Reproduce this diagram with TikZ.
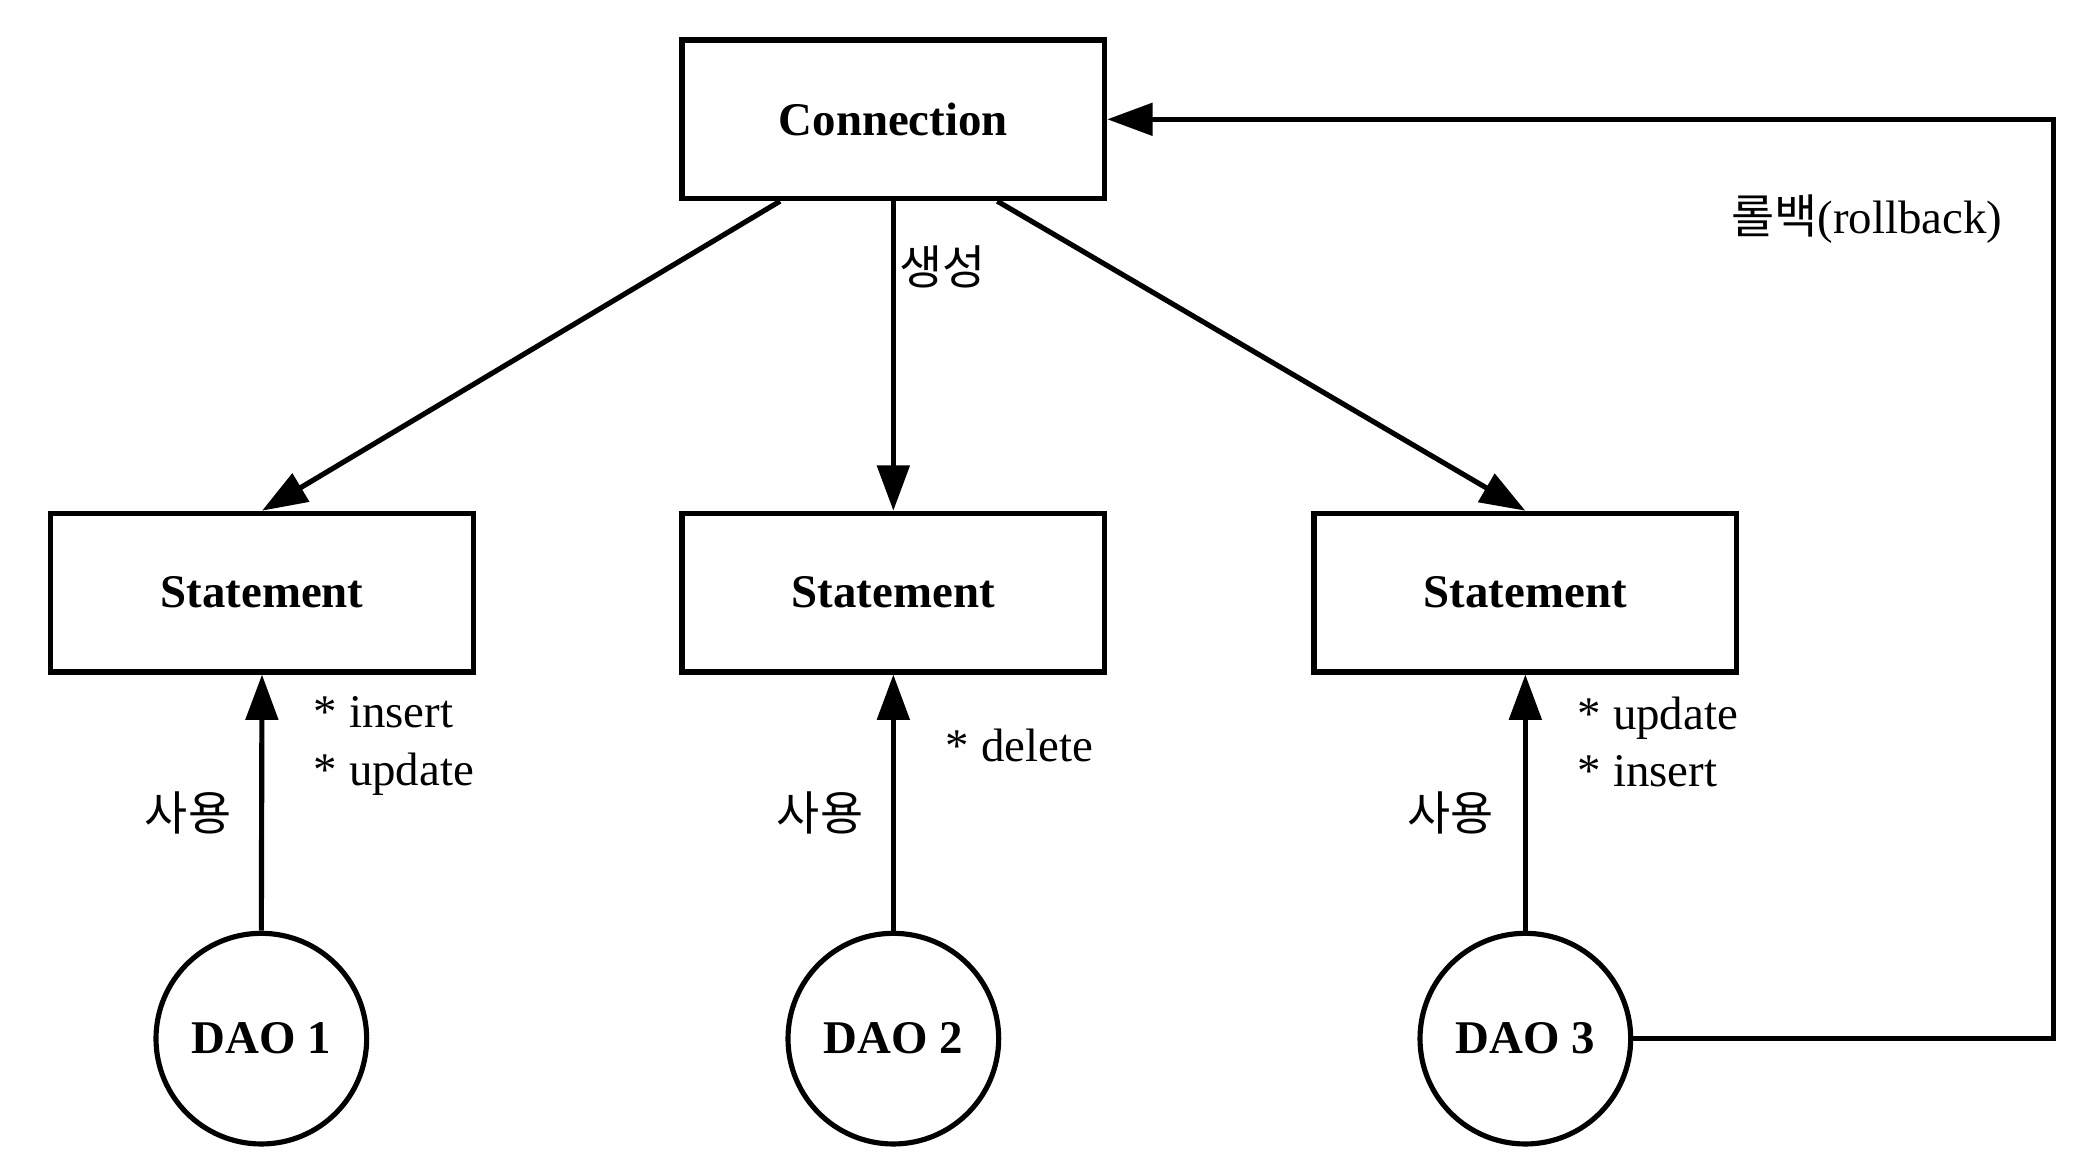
\documentclass[tikz,border=0pt]{standalone}
\usepackage{fontspec}
\setmainfont{Liberation Serif}
\newfontfamily\kor{Noto Sans CJK KR}
\usetikzlibrary{arrows.meta}
\begin{document}
\begin{tikzpicture}[
    box/.style={draw, line width=1.1pt, minimum width=3.17cm, minimum height=1.19cm, font=\bfseries},
    dao/.style={draw, circle, line width=1.1pt, minimum size=1.58cm, inner sep=0pt, font=\bfseries},
    note/.style={align=left, anchor=west, font=\fontsize{10}{12.2}\selectfont}
  ]
  \useasboundingbox (0,0) rectangle (15.6,8.76);
  \node[box] (conn) at (6.70,7.865) {Connection};
  \node[box] (st1) at (1.965,4.315) {Statement};
  \node[box] (st2) at (6.70,4.315) {Statement};
  \node[box] (st3) at (11.44,4.315) {Statement};
  \node[dao] (dao1) at (1.96,0.97) {DAO 1};
  \node[dao] (dao2) at (6.70,0.97) {DAO 2};
  \node[dao] (dao3) at (11.44,0.97) {DAO 3};
  \coordinate (turn) at (15.40,0.97);
  \node[anchor=west] (make) at (6.62,6.76) {\kor 생성};
  \node (use1) at (1.41,2.66) {\kor 사용};
  \node (use2) at (6.15,2.66) {\kor 사용};
  \node (use3) at (10.88,2.66) {\kor 사용};
  \node[note] (ops1) at (2.23,3.165) {* insert\\* update};
  \node[note] (ops2) at (6.97,3.17) {* delete};
  \node[note] (ops3) at (11.71,3.195) {* update\\* insert};
  \node (back) at (14.00,7.12) {{\kor 롤백}(rollback)};
  \begin{scope}[line width=1.1pt, -{Triangle[length=0.34cm,width=0.24cm]}]
    \draw ([xshift=-0.85cm]conn.south) to (st1.north);
    \draw (conn.south) to (st2.north);
    \draw ([xshift=0.78cm]conn.south) to (st3.north);
    \draw (dao1.north) to (st1.south);
    \draw (dao2.north) to (st2.south);
    \draw (dao3.north) to (st3.south);
    \draw (dao3.east) -- (turn) |- (conn.east);
  \end{scope}
\end{tikzpicture}
\end{document}
